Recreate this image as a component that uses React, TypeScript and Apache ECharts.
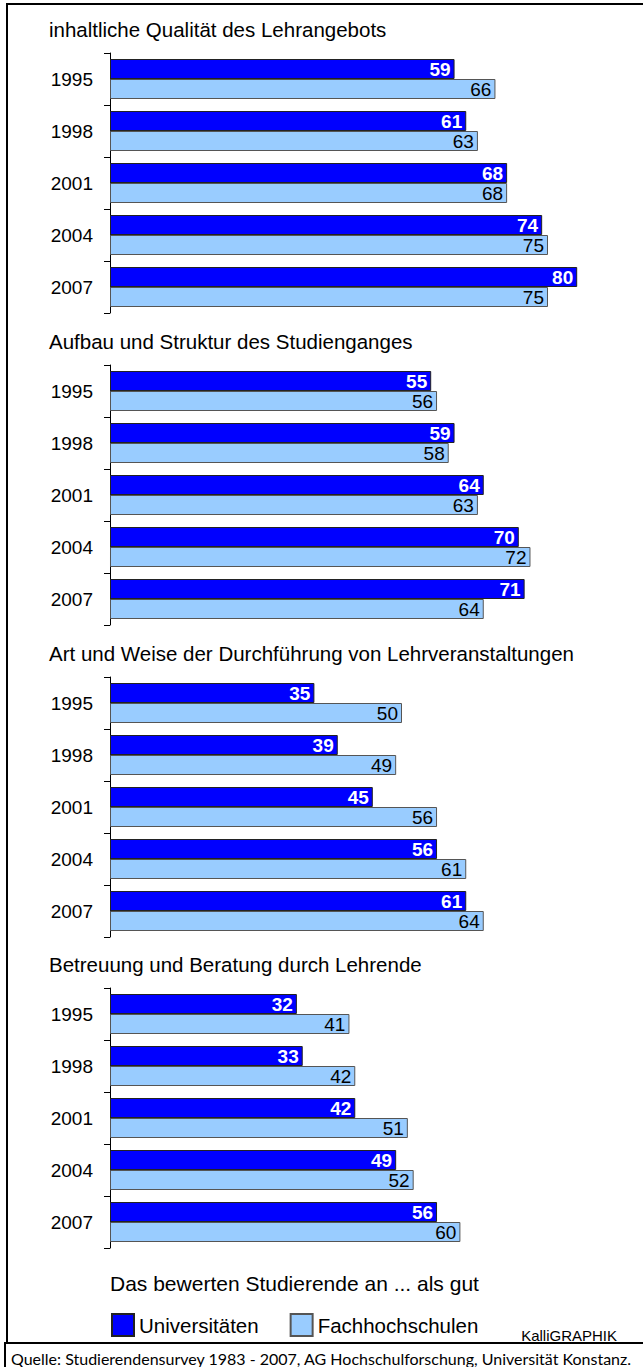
import React, { useEffect, useRef } from 'react';
import * as echarts from 'echarts';

const years = ['1995', '1998', '2001', '2004', '2007'];

const panelTitles = [
  'inhaltliche Qualität des Lehrangebots',
  'Aufbau und Struktur des Studienganges',
  'Art und Weise der Durchführung von Lehrveranstaltungen',
  'Betreuung und Beratung durch Lehrende',
];

const uniQualitaet = [59, 61, 68, 74, 80];
const fhQualitaet = [66, 63, 68, 75, 75];
const uniAufbau = [55, 59, 64, 70, 71];
const fhAufbau = [56, 58, 63, 72, 64];
const uniDurchfuehrung = [35, 39, 45, 56, 61];
const fhDurchfuehrung = [50, 49, 56, 61, 64];
const uniBetreuung = [32, 33, 42, 49, 56];
const fhBetreuung = [41, 42, 51, 52, 60];

const uniSeries = [uniQualitaet, uniAufbau, uniDurchfuehrung, uniBetreuung];
const fhSeries = [fhQualitaet, fhAufbau, fhDurchfuehrung, fhBetreuung];

const seriesNames = ['Universitäten', 'Fachhochschulen'];
const subtitle = 'Das bewerten Studierende an ... als gut';
const credit = 'KalliGRAPHIK';
const source = 'Quelle: Studierendensurvey 1983 - 2007, AG Hochschulforschung, Universität Konstanz.';

const FONT = 'Liberation Sans, Arial, sans-serif';
const FOOT_FONT = 'Lato, sans-serif';
const W = 643;
const H = 1367;
const gridTops = [53, 365, 677, 988];
const gridLeft = 110;
const gridHeight = 260;
const xMax = 90;
const gridWidth = 525.6;

export default function App() {
  const ref = useRef<HTMLDivElement>(null);

  useEffect(() => {
    document.body.style.margin = '0';
    const chart = echarts.init(ref.current!, null, { renderer: 'svg' });

    const grids = gridTops.map((t) => ({ left: gridLeft, top: t, width: gridWidth, height: gridHeight }));
    const xAxes = gridTops.map((_, i) => ({
      gridIndex: i,
      type: 'value',
      min: 0,
      max: xMax,
      show: false,
    }));
    const yAxes = gridTops.map((_, i) => ({
      gridIndex: i,
      type: 'category',
      data: years,
      inverse: true,
      axisLine: { lineStyle: { color: '#000', width: 1 } },
      axisTick: { show: true, length: 6, lineStyle: { color: '#000' } },
      axisLabel: { fontSize: 19, color: '#000', margin: 17, fontFamily: FONT },
    }));
    const series: any[] = [];
    gridTops.forEach((_, i) => {
      series.push({
        type: 'bar',
        name: seriesNames[0],
        xAxisIndex: i,
        yAxisIndex: i,
        data: uniSeries[i],
        barWidth: 20,
        barGap: '0%',
        itemStyle: { color: '#0000FF', borderColor: '#222', borderWidth: 1 },
        label: {
          show: true,
          position: 'insideRight',
          distance: 4,
          color: '#fff',
          fontWeight: 'bold',
          fontSize: 19,
          fontFamily: FONT,
        },
      });
      series.push({
        type: 'bar',
        name: seriesNames[1],
        xAxisIndex: i,
        yAxisIndex: i,
        data: fhSeries[i],
        barWidth: 20,
        barGap: '0%',
        itemStyle: { color: '#99CCFF', borderColor: '#555', borderWidth: 1 },
        label: {
          show: true,
          position: 'insideRight',
          distance: 4,
          color: '#000',
          fontWeight: 'normal',
          fontSize: 19,
          fontFamily: FONT,
        },
      });
    });

    const graphic: any[] = [
      { type: 'line', shape: { x1: 7, y1: 4, x2: W, y2: 4 }, style: { stroke: '#000', lineWidth: 2 } },
      { type: 'line', shape: { x1: 7, y1: 3, x2: 7, y2: 1343 }, style: { stroke: '#000', lineWidth: 2 } },
      { type: 'line', shape: { x1: 4, y1: 1343, x2: W, y2: 1343 }, style: { stroke: '#000', lineWidth: 2 } },
      { type: 'line', shape: { x1: 5, y1: 1343, x2: 5, y2: H }, style: { stroke: '#000', lineWidth: 2 } },
      ...panelTitles.map((t, i) => ({
        type: 'text',
        x: 49,
        y: gridTops[i] - 24,
        style: { text: t, fontSize: 20.5, fontFamily: FONT, fill: '#000', textVerticalAlign: 'middle' },
      })),
      {
        type: 'text',
        x: 110,
        y: 1283,
        style: { text: subtitle, fontSize: 21, fontFamily: FONT, fill: '#000', textVerticalAlign: 'middle' },
      },
      {
        type: 'text',
        x: 617,
        y: 1343,
        style: { text: credit, fontSize: 15, fontFamily: FONT, fill: '#000', textAlign: 'right', textVerticalAlign: 'bottom' },
      },
      {
        type: 'text',
        x: 11,
        y: 1358,
        style: { text: source, fontSize: 16, fontFamily: FOOT_FONT, fill: '#000', textVerticalAlign: 'middle' },
      },
    ];

    chart.setOption({
      animation: false,
      backgroundColor: '#fff',
      grid: grids,
      xAxis: xAxes,
      yAxis: yAxes,
      series,
      legend: {
        data: seriesNames,
        left: 106,
        top: 1308,
        itemWidth: 22,
        itemHeight: 22,
        itemGap: 31,
        icon: 'rect',
        textStyle: { fontSize: 20.5, color: '#000', fontFamily: FONT },
      },
      graphic,
    });
    return () => chart.dispose();
  }, []);

  return <div ref={ref} style={{ position: 'absolute', left: 0, top: 0, width: W, height: H }} />;
}
